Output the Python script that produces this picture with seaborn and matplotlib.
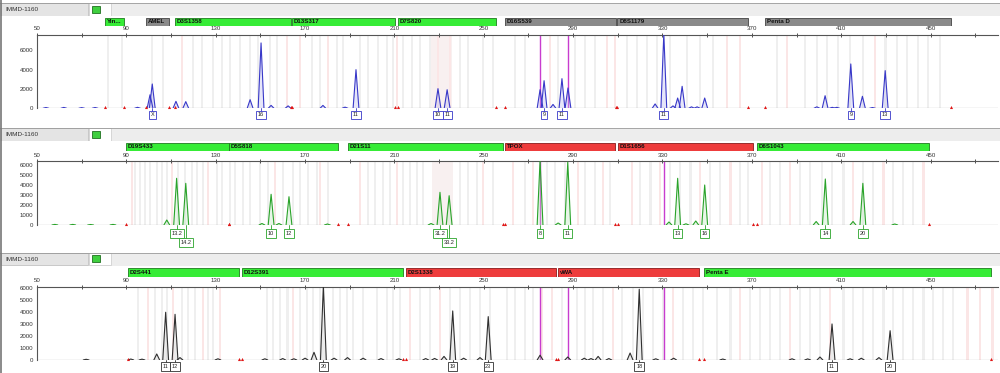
import numpy as np
import pandas as pd
import matplotlib
matplotlib.use('Agg')
import matplotlib.pyplot as plt
import seaborn as sns

sns.set_style('white')
plt.rcParams['font.family'] = ['Liberation Sans', 'DejaVu Sans']

W, H = 1000, 373
SAMPLE = 'IMMD-1160'
X_MIN, X_MAX = 50, 480.2

# ---------------- panel 1 (blue dye) ----------------
blue_loci = ['Yin...', 'AMEL', 'D3S1358', 'D13S317', 'D7S820', 'D16S539', 'D8S1179', 'Penta D']
blue_locus_start = [80.4, 98.8, 111.8, 164.2, 211.6, 259.5, 309.7, 375.9]
blue_locus_end = [88.9, 109.1, 163.7, 210.3, 255.5, 309.2, 368.3, 459.2]
blue_locus_state = ['ok', 'gray', 'ok', 'ok', 'ok', 'gray', 'gray', 'gray']

blue_peak_bp = [54, 62, 70, 76, 95, 100.6, 101.6, 112.2, 116.6, 145.4, 150.3, 154.8, 162.4,
                178.0, 187.9, 192.8, 229.5, 233.6, 275.2, 277.0, 281.0, 285.0, 287.7, 326.7,
                330.6, 334.7, 336.8, 338.8, 343.0, 345.5, 348.9, 399.1, 402.8, 406.0, 408.0,
                414.3, 419.5, 424.0, 429.7]
blue_peak_rfu = [80, 90, 70, 80, 100, 1400, 2510, 720, 690, 890, 6750, 300, 250,
                 300, 120, 3990, 2030, 1920, 1920, 2850, 400, 3060, 2100, 450,
                 7700, 250, 1060, 2270, 150, 150, 1060, 150, 1300, 100, 100,
                 4580, 1240, 80, 3890]

blue_allele_bp = [101.6, 150.3, 192.8, 229.5, 233.6, 277.0, 285.0, 330.6, 414.3, 429.7]
blue_allele_name = ['X', '16', '11', '10', '11', '9', '11', '11', '9', '13']
blue_allele_row = [0, 0, 0, 0, 0, 0, 0, 0, 0, 0]

blue_bins_gray = [81.8, 88.1, 101.5, 106.4, 119.8, 123.9, 128.8, 132.8, 136.4, 140.9, 145.4,
                  148.9, 154.3, 157.5, 173.1, 176.7, 184.3, 187.0, 194.6, 198.2, 202.7, 206.7,
                  209.4, 213.9, 217.9, 221.5, 226.0, 239.4, 243.0, 249.7, 254.2, 264.0, 268.5,
                  283.3, 290.9, 295.3, 299.8, 314.1, 318.6, 323.1, 327.6, 333.4, 341.0, 346.8,
                  352.6, 381.3, 393.8, 399.2, 403.7, 408.6, 414.0, 419.8, 429.7, 435.0, 439.5,
                  444.4, 448.9, 454.3]
blue_bins_pink = [114.9, 161.9, 167.7, 180.3, 211.2, 229.5, 234.9, 279.7, 305.2, 308.8,
                  358.9, 364.7, 385.8, 425.2]
blue_shade = [(226.0, 236.0)]
blue_magenta = [275.2, 287.7]

# ---------------- panel 2 (green dye) ----------------
green_loci = ['D19S433', 'D5S818', 'D21S11', 'TPOX', 'D1S1656', 'D6S1043']
green_locus_start = [89.8, 136.0, 189.2, 259.5, 310.1, 372.3]
green_locus_end = [136.0, 184.8, 258.6, 308.8, 370.6, 449.3]
green_locus_state = ['ok', 'ok', 'ok', 'bad', 'bad', 'ok']

green_peak_bp = [58, 66, 74, 84, 108.1, 112.5, 116.6, 150.7, 154.8, 158.3, 162.8, 180, 226.4,
                 230.4, 234.5, 275.2, 283.3, 287.6, 332.9, 336.8, 340.5, 344.9, 348.9, 398.8,
                 402.9, 415.3, 419.7, 434.0]
green_peak_rfu = [60, 60, 50, 60, 500, 4670, 4170, 150, 3070, 150, 2830, 100, 150,
                  3270, 2930, 6450, 200, 6300, 300, 4670, 120, 400, 4000, 350,
                  4600, 350, 4170, 100]

green_allele_bp = [112.5, 116.6, 154.8, 162.8, 230.4, 234.5, 275.2, 287.6, 336.8, 348.9, 402.9, 419.7]
green_allele_name = ['13.2', '14.2', '10', '12', '31.2', '33.2', '8', '11', '13', '16', '14', '20']
green_allele_row = [0, 1, 0, 0, 0, 1, 0, 0, 0, 0, 0, 0]

green_bins_gray = [93.9, 96.1, 98.4, 100.6, 103.7, 106.0, 108.2, 113.1, 116.3, 119.4, 121.6,
                   124.3, 130.6, 132.8, 136.4, 138.6, 142.2, 145.4, 149.8, 153.4, 160.1, 164.6,
                   167.7, 171.3, 175.4, 180.3, 198.2, 201.3, 204.9, 208.0, 213.9, 217.0, 220.1,
                   222.8, 239.4, 243.0, 247.0, 254.2, 268.5, 278.3, 281.9, 286.4, 295.3, 299.8,
                   306.5, 320.0, 324.5, 333.4, 337.9, 342.4, 351.3, 355.8, 364.7, 368.3, 378.2,
                   382.6, 391.6, 396.1, 401.4, 405.9, 410.9, 419.8, 424.3, 433.2, 437.7, 442.2]
green_bins_pink = [92.5, 110.4, 126.6, 156.6, 176.7, 194.6, 211.2, 249.7, 263.1, 272.1, 292.2,
                   303.4, 316.4, 328.9, 346.8, 360.3, 374.6, 387.1, 415.3, 428.8, 446.7]
green_shade = [(226.8, 236.2)]
green_magenta = [275.2, 330.6]

# ---------------- panel 3 (black dye) ----------------
black_loci = ['D2S441', 'D12S391', 'D2S1338', 'vWA', 'Penta E']
black_locus_start = [90.7, 141.8, 215.2, 283.3, 348.6]
black_locus_end = [140.4, 213.9, 282.4, 346.4, 477.1]
black_locus_state = ['ok', 'ok', 'bad', 'bad', 'ok']

black_peak_bp = [72, 92, 97, 103.6, 107.6, 111.8, 114.0, 131, 152, 160, 165, 170, 174.0, 178.2,
                 183, 189, 196, 204, 212, 224, 228, 232.2, 236.1, 241, 248.3, 252.0, 275.2,
                 287.6, 295, 298, 301.2, 306, 315.5, 319.6, 327, 335, 357, 388, 395,
                 400.5, 405.9, 414, 419, 426.9, 431.9]
black_peak_rfu = [60, 80, 70, 500, 3960, 3790, 200, 100, 100, 120, 100, 150, 640, 6200,
                  150, 200, 150, 120, 100, 120, 130, 300, 4070, 150, 200, 3600, 400,
                  250, 150, 120, 300, 120, 580, 5870, 100, 150, 80, 100, 90,
                  250, 2990, 100, 150, 200, 2430]

black_allele_bp = [107.6, 111.8, 178.2, 236.1, 252.0, 319.6, 405.9, 431.9]
black_allele_name = ['11', '12', '20', '19', '23', '18', '11', '20']
black_allele_row = [0, 0, 0, 0, 0, 0, 0, 0]

black_bins_gray = [95.2, 102.8, 106.0, 108.2, 114.9, 117.6, 120.7, 126.6, 128.8, 153.0, 155.7,
                   158.8, 162.0, 167.7, 170.9, 173.6, 176.7, 182.5, 185.7, 188.8, 191.5, 196.0,
                   202.2, 206.7, 209.4, 212.5, 221.5, 226.0, 234.9, 239.4, 243.9, 248.3, 252.8,
                   260.4, 264.0, 268.5, 272.1, 285.0, 291.8, 295.3, 298.9, 303.4, 311.9, 316.8,
                   321.3, 325.8, 330.3, 339.2, 343.7, 348.2, 354.4, 360.3, 369.2, 373.7, 378.2,
                   382.6, 391.6, 396.1, 400.5, 410.9, 415.3, 419.8, 424.3, 428.8, 433.2, 437.7,
                   442.2, 446.7, 451.1, 455.6, 460.1]
black_bins_pink = [99.7, 110.9, 124.3, 131.9, 164.6, 217.0, 230.4, 276.1, 280.6, 307.9, 334.7,
                   364.7, 387.1, 405.0, 466.4, 472.2, 477.6]
black_shade = []
black_magenta = [275.2, 287.6, 330.6]

STATE_COLORS = {'ok': ('#36ec36', '#1f7a1f'), 'gray': ('#8a8a8a', '#444444'),
                'bad': ('#ee3c3c', '#8a1a1a')}


def px_axes(fig, x0, y0, x1, y1):
    """axes from pixel box (top-left origin)"""
    return fig.add_axes([x0 / W, 1 - y1 / H, (x1 - x0) / W, (y1 - y0) / H])


def draw_header(fig, top, bot):
    ax = px_axes(fig, 0, top, W, bot)
    ax.set_xlim(0, W)
    ax.set_ylim(bot, top)
    ax.axis('off')
    ax.add_patch(plt.Rectangle((0, top), W, bot - top, fc='#ededed', ec='none'))
    ax.add_patch(plt.Rectangle((1, top + 0.5), 87, bot - top - 1, fc='#e4e4e4', ec='#c4c4c4', lw=0.6))
    ax.add_patch(plt.Rectangle((89, top + 0.5), 22, bot - top - 1, fc='white', ec='#d0d0d0', lw=0.6))
    ax.add_patch(plt.Rectangle((92, top + 3), 7.5, 7, fc='#3fcf3f', ec='#207020', lw=0.6))
    ax.text(5, (top + bot) / 2, SAMPLE, fontsize=4.6, va='center', ha='left', color='#333333')
    ax.axhline(top + 0.2, color='#9a9a9a', lw=1.2)


def draw_loci(fig, top, bot, names, starts, ends, states):
    ax = px_axes(fig, 37, top, 998, bot)
    ax.set_xlim(X_MIN, X_MAX)
    ax.set_ylim(-0.5, 0.5)
    ax.axis('off')
    for name, s, e, st in zip(names, starts, ends, states):
        fc, ec = STATE_COLORS[st]
        ax.barh(0, e - s, left=s, height=1.0, color=fc, edgecolor=ec, linewidth=0.6)
        ax.text(s + 0.9, 0, name, fontsize=4.4, fontweight='bold', va='center', ha='left',
                color='#111111')


def draw_trace(ax, peak_bp, peak_rfu, color, fill):
    hw = 1.3
    rows = []
    for i, (b, r) in enumerate(zip(peak_bp, peak_rfu)):
        rows += [(i, b - hw, 0), (i, b, r), (i, b + hw, 0)]
    df = pd.DataFrame(rows, columns=['peak', 'bp', 'rfu'])
    for i, g in df.groupby('peak'):
        ax.fill(g['bp'], g['rfu'], color=fill, alpha=0.35, lw=0, zorder=2)
    sns.lineplot(data=df, x='bp', y='rfu', units='peak', estimator=None, sort=False,
                 color=color, lw=0.8, ax=ax, zorder=3, legend=False)


def draw_panel(fig, geo, loci, peaks, alleles, bins, magenta, color, fill, ymax, ystep):
    (h_top, h_bot), (b_top, b_bot), (p_top, p_bot), label_rows = geo
    draw_header(fig, h_top, h_bot)
    draw_loci(fig, b_top, b_bot, *loci)

    ax = px_axes(fig, 37, p_top, 998, p_bot)
    ax.set_xlim(X_MIN, X_MAX)
    ax.set_ylim(0, ymax)
    ax.set_facecolor('none')

    gray_bins, pink_bins, shades = bins
    for lo, hi in shades:
        ax.axvspan(lo, hi, color='#f8f0f0', lw=0, zorder=0)
    for b in gray_bins:
        ax.axvspan(b - 0.6, b + 0.6, color='#efefef', lw=0, zorder=0)
    for b in pink_bins:
        ax.axvspan(b - 0.6, b + 0.6, color='#fbe6e6', lw=0, zorder=0)
    for m in magenta:
        ax.axvline(m, color='#c83ccf', lw=1.0, zorder=1)

    ax.axhline(0, color='#555555', lw=0.8, zorder=1)
    draw_trace(ax, peaks[0], peaks[1], color, fill)

    # locus edge flags
    starts, ends = loci[1], loci[2]
    edges = list(starts) + list(ends)
    ax.scatter(edges, [ymax * 0.012] * len(edges), marker='^', s=5, color='#e01818',
               zorder=5, clip_on=False, linewidths=0)

    # allele call boxes below the baseline
    rfu_per_px = ymax / (p_bot - p_top)
    for b, name, row in zip(*alleles):
        y_data = label_rows[row] * rfu_per_px
        ax.plot([b, b], [0, y_data + 3 * rfu_per_px], color=color, lw=0.6, clip_on=False, zorder=3)
        ax.text(b, y_data, name, fontsize=4.0, ha='center', va='center', color='#222222',
                clip_on=False, zorder=4,
                bbox=dict(boxstyle='square,pad=0.3', fc='white', ec=color, lw=0.6))

    # axes styling
    sns.despine(ax=ax, top=False, right=True, bottom=True, left=False)
    for side in ['top', 'left']:
        ax.spines[side].set_color('#555555')
        ax.spines[side].set_linewidth(0.8)
    ax.xaxis.tick_top()
    xt = list(range(50, 471, 20))
    ax.set_xticks(xt)
    ax.set_xticklabels([str(t) if (t - 50) % 40 == 0 else '' for t in xt])
    ax.tick_params(axis='x', direction='inout', length=3, width=0.6, pad=1,
                   labelsize=4.4, colors='#333333')
    yt = list(range(0, int(ymax) + 1, ystep))
    ax.set_yticks(yt)
    ax.set_yticks([v + ystep / 2 for v in yt if v + ystep / 2 < ymax], minor=True)
    ax.tick_params(axis='y', which='major', direction='inout', length=3, width=0.6, pad=1,
                   labelsize=4.4, colors='#333333')
    ax.tick_params(axis='y', which='minor', direction='out', length=1.5, width=0.5)
    ax.set_xlabel('')
    ax.set_ylabel('')
    ax.grid(False)


def main():
    fig = plt.figure(figsize=(W / 100, H / 100), dpi=100)
    fig.patch.set_facecolor('white')

    # header, locus bar, plot (px), allele label row offsets below baseline (px)
    geo1 = ((2.5, 16), (17.5, 25.5), (34.7, 108.3), [-6.5])
    geo2 = ((127.5, 141), (143, 151), (161, 225), [-8.5, -17.5])
    geo3 = ((252.5, 266), (268, 276.5), (286.7, 360), [-6.5])

    draw_panel(fig, geo1,
               (blue_loci, blue_locus_start, blue_locus_end, blue_locus_state),
               (blue_peak_bp, blue_peak_rfu),
               (blue_allele_bp, blue_allele_name, blue_allele_row),
               (blue_bins_gray, blue_bins_pink, blue_shade), blue_magenta,
               '#3838c8', '#b9b9f0', 7600, 2000)
    draw_panel(fig, geo2,
               (green_loci, green_locus_start, green_locus_end, green_locus_state),
               (green_peak_bp, green_peak_rfu),
               (green_allele_bp, green_allele_name, green_allele_row),
               (green_bins_gray, green_bins_pink, green_shade), green_magenta,
               '#2aa32a', '#bfe8bf', 6400, 1000)
    draw_panel(fig, geo3,
               (black_loci, black_locus_start, black_locus_end, black_locus_state),
               (black_peak_bp, black_peak_rfu),
               (black_allele_bp, black_allele_name, black_allele_row),
               (black_bins_gray, black_bins_pink, black_shade), black_magenta,
               '#303030', '#c8c8c8', 6080, 1000)

    # left frame line
    fig.add_artist(plt.Line2D([0.0008, 0.0008], [0, 1], color='#777777', lw=1.2))

    fig.savefig('out.png', dpi=100, facecolor='white')


if __name__ == '__main__':
    main()
